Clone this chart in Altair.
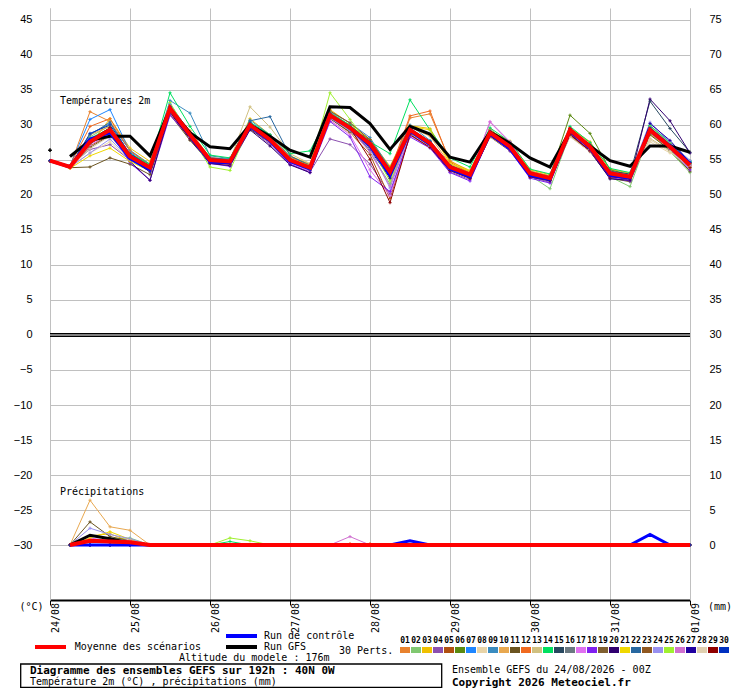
import altair as alt
import pandas as pd

# ---------------- data ----------------
HOURS = list(range(0, 193, 6))
DAY_HOURS = list(range(0, 193, 24))
DAY_LABELS = ["24/08", "25/08", "26/08", "27/08", "28/08", "29/08", "30/08", "31/08", "01/09"]

MEMBER_IDS = [f"{i:02d}" for i in range(1, 31)]
MEMBER_COLORS = [
    "#e8822e", "#80c870", "#f0c000", "#8c50b0", "#b05010", "#5a8a10", "#1e86ff", "#e8d4a8",
    "#3a8cc0", "#e8a850", "#6b5420", "#f06a20", "#d0c080", "#00e060", "#284860", "#6a7880",
    "#e070f0", "#8020f0", "#806030", "#300070", "#f0d800", "#2868a0", "#905820", "#9890f0",
    "#a0f030", "#d070d0", "#2000a0", "#e0d0b0", "#900000", "#0030c0",
]

MEAN_T = [24.9, 24.0, 27.6, 29.3, 25.5, 23.9, 32.4, 28.6, 25.0, 24.8, 30.0, 27.9, 25.0, 23.9, 31.4, 29.6, 27.3,
          23.3, 29.3, 27.4, 24.0, 22.9, 28.9, 26.9, 23.1, 22.4, 29.3, 26.9, 23.1, 22.6, 29.3, 26.9, 24.3]
GFS_T = [26.4, 25.5, 27.8, 28.4, 28.4, 25.6, 32.3, 28.9, 26.9, 26.6, 30.0, 28.4, 26.4, 25.4, 32.6, 32.5, 30.2,
         26.5, 29.8, 28.7, 25.4, 24.7, 29.0, 27.4, 25.3, 24.0, 29.1, 27.0, 24.9, 24.1, 27.0, 27.0, 26.1]
CTRL_T = [24.9, 24.0, 28.0, 28.9, 25.2, 23.6, 32.3, 28.4, 24.7, 24.6, 29.8, 27.7, 24.8, 23.7, 31.4, 29.6, 27.0,
          22.8, 29.1, 27.2, 23.7, 22.6, 28.7, 26.6, 22.8, 22.2, 29.2, 26.7, 22.8, 22.4, 29.4, 27.0, 24.5]

MEMBER_T = {
    "01": [24.9, 24.1, 31.9, 30.5, 26.3, 24.2, 32.8, 29.0, 25.4, 25.0, 30.4, 28.3, 25.3, 24.2, 31.8, 29.8, 27.0, 23.0, 31.0, 31.6, 24.9, 23.3, 29.3, 27.2, 23.4, 22.6, 29.6, 27.4, 23.3, 22.8, 29.1, 26.7, 24.1],
    "02": [24.9, 24.0, 28.3, 29.9, 25.9, 24.3, 32.9, 28.4, 24.8, 24.5, 29.7, 27.7, 24.7, 23.6, 31.9, 29.9, 26.1, 21.6, 29.0, 27.0, 23.6, 22.6, 28.6, 26.6, 22.8, 20.9, 28.8, 26.5, 22.6, 21.2, 28.9, 26.2, 23.2],
    "03": [24.9, 23.8, 27.2, 30.9, 26.7, 24.8, 32.0, 28.3, 25.2, 25.1, 30.9, 28.6, 25.6, 24.4, 32.2, 30.2, 27.9, 24.1, 29.9, 29.5, 24.8, 23.5, 29.2, 27.7, 23.6, 22.9, 29.6, 27.6, 23.7, 23.1, 28.7, 26.6, 24.7],
    "04": [24.9, 24.2, 26.5, 27.2, 25.0, 23.4, 31.9, 28.0, 24.6, 24.4, 29.5, 27.2, 24.4, 23.3, 28.0, 27.2, 24.4, 20.1, 28.7, 26.9, 23.3, 22.2, 28.4, 26.4, 22.6, 21.8, 28.9, 26.4, 22.7, 22.1, 29.1, 27.0, 23.9],
    "05": [24.9, 24.1, 27.0, 28.6, 25.1, 23.5, 31.8, 28.2, 24.7, 24.6, 29.8, 27.6, 24.8, 23.7, 31.0, 28.9, 25.8, 19.5, 28.6, 26.8, 23.5, 22.6, 28.7, 26.6, 23.0, 22.2, 29.1, 26.8, 23.0, 22.4, 29.5, 27.3, 24.5],
    "06": [24.9, 24.0, 27.9, 29.6, 25.8, 24.2, 32.6, 28.8, 25.1, 24.9, 30.2, 28.0, 25.2, 24.1, 31.6, 29.9, 27.8, 23.9, 29.5, 27.7, 24.3, 23.2, 29.4, 27.2, 23.4, 22.7, 31.4, 28.8, 23.6, 22.9, 29.6, 27.2, 24.6],
    "07": [24.9, 24.2, 30.8, 32.2, 26.2, 23.8, 33.0, 28.9, 25.0, 24.7, 30.4, 28.4, 25.1, 23.8, 31.5, 29.6, 27.6, 23.6, 29.6, 27.5, 24.1, 22.8, 29.0, 27.0, 23.2, 22.5, 29.2, 26.9, 23.1, 22.5, 29.9, 27.5, 24.8],
    "08": [24.9, 23.9, 26.0, 27.6, 25.0, 23.8, 31.6, 28.0, 24.8, 24.5, 29.6, 27.4, 24.8, 23.8, 30.6, 28.8, 26.6, 23.0, 28.9, 27.0, 23.8, 22.9, 28.4, 26.5, 23.0, 22.5, 28.6, 26.6, 23.2, 22.9, 27.6, 26.0, 25.0],
    "09": [24.9, 24.1, 28.7, 30.2, 26.4, 24.4, 33.5, 31.7, 25.6, 25.2, 30.7, 28.6, 25.5, 24.3, 31.9, 30.3, 28.2, 23.8, 30.0, 27.8, 24.2, 23.1, 29.2, 27.1, 23.3, 22.6, 29.5, 27.1, 23.3, 22.8, 29.9, 27.6, 24.9],
    "10": [24.9, 24.0, 28.6, 29.8, 25.7, 24.0, 32.5, 29.2, 25.3, 25.0, 30.3, 28.3, 25.4, 24.1, 31.2, 29.4, 27.0, 22.9, 29.7, 28.4, 24.4, 23.3, 29.3, 27.3, 23.4, 22.7, 29.0, 26.7, 22.9, 22.4, 29.0, 26.8, 24.2],
    "11": [24.9, 23.9, 24.0, 25.3, 24.4, 22.9, 31.5, 27.8, 24.6, 24.5, 29.4, 27.5, 24.7, 23.6, 30.9, 29.0, 26.8, 22.7, 28.8, 26.9, 23.7, 22.5, 28.3, 26.3, 22.8, 22.1, 28.4, 26.2, 22.4, 21.9, 28.6, 26.4, 23.4],
    "12": [24.9, 24.2, 29.8, 30.9, 26.3, 24.3, 32.7, 28.8, 25.2, 24.9, 30.1, 28.1, 25.4, 24.3, 31.3, 29.5, 27.6, 23.4, 31.3, 32.0, 24.7, 23.1, 29.1, 27.2, 23.3, 22.7, 29.4, 27.1, 23.3, 22.7, 29.4, 27.0, 24.6],
    "13": [24.9, 24.1, 27.5, 29.0, 25.6, 24.0, 32.2, 28.5, 25.1, 25.0, 32.6, 29.7, 25.9, 24.5, 31.6, 29.6, 27.4, 23.5, 29.1, 27.3, 23.8, 22.7, 28.7, 26.8, 23.0, 22.3, 28.4, 26.4, 22.8, 22.3, 28.1, 26.3, 23.8],
    "14": [24.9, 24.0, 28.1, 29.5, 25.9, 24.4, 34.6, 29.8, 25.7, 25.3, 30.4, 28.6, 25.9, 26.3, 31.7, 30.0, 27.6, 25.9, 33.6, 29.3, 25.3, 24.0, 29.6, 27.6, 23.7, 23.0, 29.8, 27.5, 23.8, 23.2, 29.9, 27.3, 24.8],
    "15": [24.9, 24.0, 27.3, 29.0, 25.3, 23.6, 32.1, 28.3, 24.9, 24.7, 29.8, 27.8, 24.9, 23.8, 31.2, 29.4, 27.2, 23.1, 29.2, 27.2, 23.9, 22.8, 28.7, 26.8, 23.0, 22.3, 29.0, 27.0, 23.4, 23.0, 33.4, 29.5, 26.1],
    "16": [24.9, 24.0, 27.8, 29.4, 25.4, 23.7, 32.3, 28.4, 24.8, 24.6, 29.6, 27.6, 24.8, 23.7, 31.1, 29.2, 26.9, 22.8, 29.0, 27.2, 23.8, 22.7, 28.8, 26.8, 23.0, 22.4, 29.1, 26.9, 23.1, 22.6, 29.3, 27.0, 24.5],
    "17": [24.9, 23.9, 27.1, 28.8, 25.2, 23.6, 32.0, 28.1, 24.7, 24.5, 29.7, 27.5, 24.6, 23.4, 30.7, 28.6, 23.6, 19.9, 28.5, 26.8, 23.6, 22.6, 30.5, 27.6, 23.1, 22.2, 29.0, 26.8, 23.0, 22.5, 29.6, 27.2, 24.2],
    "18": [24.9, 24.1, 27.7, 29.1, 24.6, 22.1, 31.4, 28.2, 24.5, 24.1, 29.6, 27.5, 24.4, 23.2, 30.5, 28.3, 22.6, 20.5, 28.3, 26.7, 23.2, 22.0, 28.6, 26.3, 22.4, 21.7, 28.8, 26.3, 22.5, 22.0, 28.9, 26.6, 23.6],
    "19": [24.9, 24.0, 26.8, 28.5, 25.3, 23.8, 32.2, 28.4, 24.8, 24.6, 29.9, 27.7, 24.9, 23.8, 31.3, 29.4, 27.1, 23.1, 29.1, 27.1, 23.8, 22.7, 28.6, 26.6, 22.9, 22.3, 29.1, 26.8, 23.0, 22.5, 29.0, 26.8, 24.0],
    "20": [24.9, 24.0, 27.5, 29.6, 24.8, 22.1, 31.8, 28.0, 24.5, 24.2, 29.3, 27.0, 24.3, 23.2, 31.0, 29.3, 26.5, 22.4, 28.8, 27.0, 23.5, 22.4, 28.5, 26.5, 22.6, 22.0, 28.7, 26.3, 22.3, 22.1, 33.7, 30.6, 26.0],
    "21": [24.9, 23.8, 25.6, 26.7, 24.8, 23.4, 32.0, 28.3, 25.0, 24.9, 30.0, 28.0, 25.1, 23.9, 31.6, 29.7, 27.4, 23.4, 29.8, 29.3, 24.5, 23.4, 29.0, 27.0, 23.2, 22.6, 29.3, 27.0, 23.2, 22.7, 29.5, 27.0, 24.5],
    "22": [24.9, 24.1, 28.6, 30.4, 25.7, 24.0, 32.6, 28.9, 25.3, 25.1, 30.6, 31.2, 25.6, 24.2, 31.5, 29.7, 27.5, 23.4, 29.4, 27.6, 24.2, 23.0, 29.0, 27.0, 23.2, 22.5, 29.5, 27.1, 23.2, 22.7, 29.4, 27.1, 24.4],
    "23": [24.9, 24.0, 27.4, 29.2, 25.6, 23.9, 32.5, 28.7, 25.1, 24.9, 30.1, 28.0, 25.1, 24.0, 32.0, 30.3, 27.9, 23.6, 29.2, 27.3, 23.9, 22.8, 28.8, 26.9, 23.2, 22.5, 29.2, 26.9, 23.2, 22.7, 29.1, 26.9, 24.3],
    "24": [24.9, 24.0, 26.0, 28.0, 25.1, 23.6, 32.0, 28.2, 24.7, 24.4, 29.9, 27.8, 24.9, 23.6, 31.0, 29.2, 26.6, 21.0, 28.9, 27.1, 23.7, 22.6, 29.1, 27.0, 23.1, 22.4, 29.3, 26.9, 23.3, 22.8, 30.4, 27.6, 24.9],
    "25": [24.9, 24.1, 28.0, 29.5, 25.5, 23.9, 33.2, 28.5, 24.0, 23.5, 30.0, 28.1, 25.2, 24.2, 34.6, 30.8, 27.0, 22.0, 28.9, 27.2, 23.9, 22.7, 28.9, 26.9, 23.1, 22.3, 29.2, 26.8, 23.1, 22.5, 29.8, 27.4, 24.4],
    "26": [24.9, 24.0, 27.6, 29.2, 25.4, 23.7, 32.3, 28.5, 24.9, 24.7, 29.8, 27.7, 24.9, 23.8, 31.5, 29.5, 26.1, 21.3, 29.1, 27.2, 24.0, 22.9, 30.4, 27.5, 23.2, 22.5, 29.0, 26.8, 23.1, 22.6, 29.2, 26.9, 24.3],
    "27": [24.9, 24.0, 27.6, 29.5, 25.2, 23.3, 32.2, 28.5, 25.0, 24.6, 30.1, 28.0, 24.9, 23.6, 31.4, 29.4, 27.3, 23.2, 29.4, 27.4, 23.9, 22.6, 28.8, 26.7, 22.9, 22.2, 29.4, 26.9, 22.8, 22.3, 30.2, 27.8, 24.6],
    "28": [24.9, 23.9, 26.6, 28.4, 25.3, 23.9, 32.0, 28.3, 25.0, 24.8, 29.7, 27.6, 24.8, 23.7, 31.2, 29.4, 27.3, 23.2, 28.8, 26.9, 23.8, 22.8, 28.3, 26.5, 23.0, 22.5, 28.3, 26.2, 23.0, 22.6, 27.9, 26.2, 24.0],
    "29": [24.9, 24.1, 27.9, 29.6, 25.6, 23.9, 31.9, 28.1, 24.6, 24.4, 29.9, 27.8, 24.8, 23.7, 31.6, 29.6, 25.1, 18.9, 28.6, 26.8, 23.5, 22.4, 28.4, 26.5, 22.6, 22.1, 28.6, 26.3, 22.6, 22.3, 29.1, 26.8, 23.9],
    "30": [24.9, 24.0, 28.8, 30.0, 25.9, 24.1, 32.6, 28.8, 25.2, 24.9, 30.3, 28.2, 25.2, 24.0, 31.6, 29.8, 27.6, 23.6, 29.5, 27.6, 24.2, 23.0, 29.1, 27.1, 23.2, 22.6, 29.5, 27.1, 23.3, 22.8, 29.6, 27.2, 24.6],
}

# precipitation (mm), non-zero values only, keyed by forecast hour; plotted from +6h
PRECIP_HOURS = list(range(6, 193, 6))
MEAN_P = {12: 0.6, 18: 0.5, 24: 0.4}
GFS_P = {12: 1.4, 18: 0.9, 24: 0.3}
CTRL_P = {108: 0.6, 180: 1.5}
MEMBER_P = {
    "01": {12: 0.8, 18: 0.3},
    "02": {12: 0.6, 18: 0.9, 24: 1.0},
    "03": {12: 1.3, 18: 1.6, 24: 0.5},
    "10": {12: 6.4, 18: 2.6, 24: 2.1},
    "11": {12: 3.3, 18: 1.2, 24: 0.6},
    "12": {90: 0.2, 96: 0.2},
    "13": {12: 0.5, 18: 0.4},
    "14": {12: 0.4, 18: 0.8, 24: 0.5, 54: 0.5},
    "17": {12: 1.0, 18: 0.6, 24: 0.7},
    "21": {12: 1.0, 18: 1.9, 24: 0.8},
    "24": {12: 2.4, 18: 1.5, 24: 0.9},
    "25": {54: 1.0, 60: 0.6},
    "26": {90: 1.2},
}

# ---------------- tables ----------------
mem_t_rows = []
mem_p_rows = []
for mid in MEMBER_IDS:
    for h, v in zip(HOURS, MEMBER_T[mid]):
        mem_t_rows.append({"m": mid, "h": h, "v": v})
    sp = MEMBER_P.get(mid, {})
    for h in PRECIP_HOURS:
        mem_p_rows.append({"m": mid, "h": h, "mm": sp.get(h, 0.0)})
mem_t = pd.DataFrame(mem_t_rows)
mem_p = pd.DataFrame(mem_p_rows)


def ptable(sp):
    return pd.DataFrame({"h": PRECIP_HOURS, "mm": [sp.get(h, 0.0) for h in PRECIP_HOURS]})


mean_t = pd.DataFrame({"h": HOURS, "v": MEAN_T})
ctrl_t = pd.DataFrame({"h": HOURS, "v": CTRL_T})
gfs_t = pd.DataFrame({"h": HOURS, "v": GFS_T})
mean_p, gfs_p, ctrl_p = ptable(MEAN_P), ptable(GFS_P), ptable(CTRL_P)

# ---------------- scales / axes ----------------
GRID = "#c0c0c0"
MONO = "DejaVu Sans Mono"
XSC = alt.Scale(domain=[0, 192], nice=False, zero=False)
XAX = alt.Axis(values=DAY_HOURS, grid=True, gridColor=GRID, gridWidth=1, labels=False,
               ticks=True, tickColor="black", tickSize=5, domain=True, domainColor="black",
               domainWidth=2, title=None)
YSC = alt.Scale(domain=[-37.857, 46.714], nice=False, zero=False)
YVALS = list(range(-30, 50, 5))
X = alt.X("h:Q", scale=XSC, axis=XAX)
MCOL = alt.Color("m:N", scale=alt.Scale(domain=MEMBER_IDS, range=MEMBER_COLORS), legend=None)
CROSS = "M-1,0L1,0M0,-1L0,1"

left_axis = alt.Chart(pd.DataFrame({"y": [0]})).mark_rule(color="black", strokeWidth=4).encode(
    y=alt.Y("y:Q", scale=YSC, axis=alt.Axis(values=YVALS, grid=True, gridColor=GRID, gridWidth=1,
                                            ticks=False, domain=True, domainColor=GRID,
                                            labelFont="Liberation Sans", labelFontSize=11,
                                            labelColor="black", labelPadding=18, title=None)))
zero_inner = alt.Chart(pd.DataFrame({"y": [0]})).mark_rule(color="white", strokeWidth=1.2).encode(
    y=alt.Y("y:Q", scale=YSC, axis=alt.Axis(values=YVALS, orient="right", grid=False, ticks=False,
                                            domain=True, domainColor=GRID, labelExpr="datum.value + 30",
                                            labelFont="Liberation Sans", labelFontSize=11,
                                            labelColor="black", labelPadding=19, labelAlign="left",
                                            title=None)))


def Y(field):
    return alt.Y(field, scale=YSC, axis=None)


mem_t_lines = alt.Chart(mem_t).mark_line(strokeWidth=1).encode(x=X, y=Y("v:Q"), color=MCOL, detail="m:N")
mem_t_pts = alt.Chart(mem_t).mark_point(shape=CROSS, size=10, strokeWidth=1, filled=False, opacity=1).encode(
    x=X, y=Y("v:Q"), color=MCOL)
mem_p_lines = alt.Chart(mem_p).transform_calculate(v="datum.mm - 30").mark_line(strokeWidth=1).encode(
    x=X, y=Y("v:Q"), color=MCOL, detail="m:N")
mem_p_pts = alt.Chart(mem_p).transform_calculate(v="datum.mm - 30").mark_point(
    shape=CROSS, size=10, strokeWidth=1, filled=False, opacity=1).encode(x=X, y=Y("v:Q"), color=MCOL)


def series(df, color, width, precip=False, start=0):
    c = alt.Chart(df)
    if precip:
        c = c.transform_calculate(v="datum.mm - 30")
    if start:
        c = c.transform_filter(f"datum.h >= {start}")
    return c.mark_line(color=color, strokeWidth=width).encode(x=X, y=Y("v:Q"))


gfs_first = alt.Chart(gfs_t).transform_filter("datum.h == 0").mark_point(
    shape=CROSS, size=14, strokeWidth=1.5, filled=False, color="black", opacity=1).encode(x=X, y=Y("v:Q"))

layers = [
    left_axis, zero_inner,
    mem_t_lines, mem_t_pts, mem_p_lines, mem_p_pts,
    series(gfs_t, "black", 3, start=6), gfs_first, series(gfs_p, "black", 3, precip=True),
    series(ctrl_t, "#0000ff", 3), series(ctrl_p, "#0000ff", 3, precip=True),
    series(mean_t, "#ff0000", 4), series(mean_p, "#ff0000", 4, precip=True),
]

# ---------------- texts ----------------
def txt(s, x, y, size=10, bold=False, align="left", font=MONO):
    return alt.Chart(pd.DataFrame({"t": [s]})).mark_text(
        align=align, baseline="middle", font=font, fontSize=size,
        fontWeight="bold" if bold else "normal", color="black").encode(
        x=alt.value(x), y=alt.value(y), text="t:N")


days = alt.Chart(pd.DataFrame({"h": DAY_HOURS, "lab": DAY_LABELS})).mark_text(
    angle=270, align="right", baseline="top", font=MONO, fontSize=10, color="black", dy=1).encode(
    x=X, y=alt.value(595), text="lab:N")
layers.append(days)

layers += [
    txt("Températures 2m", 10, 93),
    txt("Précipitations", 10, 484),
    txt("(°C)", -18.5, 599, align="center"),
    txt("(mm)", 670, 599, align="center"),
]

# line legend
def swatch(color, x1, x2, y):
    return alt.Chart(pd.DataFrame({"a": [0]})).mark_rule(color=color, strokeWidth=4).encode(
        x=alt.value(x1), x2=alt.value(x2), y=alt.value(y))


layers += [
    swatch("#ff0000", -15, 16, 639),
    swatch("#0000ff", 176, 207, 628),
    swatch("black", 176, 207, 639),
    txt("Moyenne des scénarios", 24.7, 639),
    txt("Run de contrôle", 214, 628),
    txt("Run GFS", 214, 639),
    txt("30 Perts.", 289, 643),
    txt("Altitude du modele : 176m", 129, 650),
]

# member colour legend
leg = pd.DataFrame({"m": MEMBER_IDS, "i": list(range(30))})
leg_rects = alt.Chart(leg).transform_calculate(px="350 + 11 * datum.i", px2="360 + 11 * datum.i").mark_rect().encode(
    x=alt.X("px:Q", scale=None, axis=None), x2="px2:Q", y=alt.value(639), y2=alt.value(645), color=MCOL)
leg_nums = alt.Chart(leg).transform_calculate(px="355 + 11 * datum.i").mark_text(
    font=MONO, fontSize=8, fontWeight="bold", color="black", baseline="middle", align="center").encode(
    x=alt.X("px:Q", scale=None, axis=None), y=alt.value(633), text="m:N")
layers += [leg_rects, leg_nums]

# title box
box = alt.Chart(pd.DataFrame({"a": [0]})).mark_rect(fill="white", stroke="black", strokeWidth=1.3).encode(
    x=alt.value(-29.3), x2=alt.value(391.7), y=alt.value(656), y2=alt.value(679.3))
layers += [
    box,
    txt("Diagramme des ensembles GEFS sur 192h : 40N 0W", -20, 663, size=11, bold=True),
    txt("Température 2m (°C) , précipitations (mm)", -20, 674),
    txt("Ensemble GEFS du 24/08/2026 - 00Z", 402, 662),
    txt("Copyright 2026 Meteociel.fr", 402, 675, size=11, bold=True),
]

chart = alt.layer(*layers).resolve_scale(y="independent").properties(
    width=640, height=592,
    padding={"left": 42, "top": 0, "right": 42, "bottom": 88},
    autosize=alt.AutoSizeParams(type="none"),
    background="white",
).configure_view(stroke=None)

chart.save("out.html", embed_options={"renderer": "svg", "actions": False})
